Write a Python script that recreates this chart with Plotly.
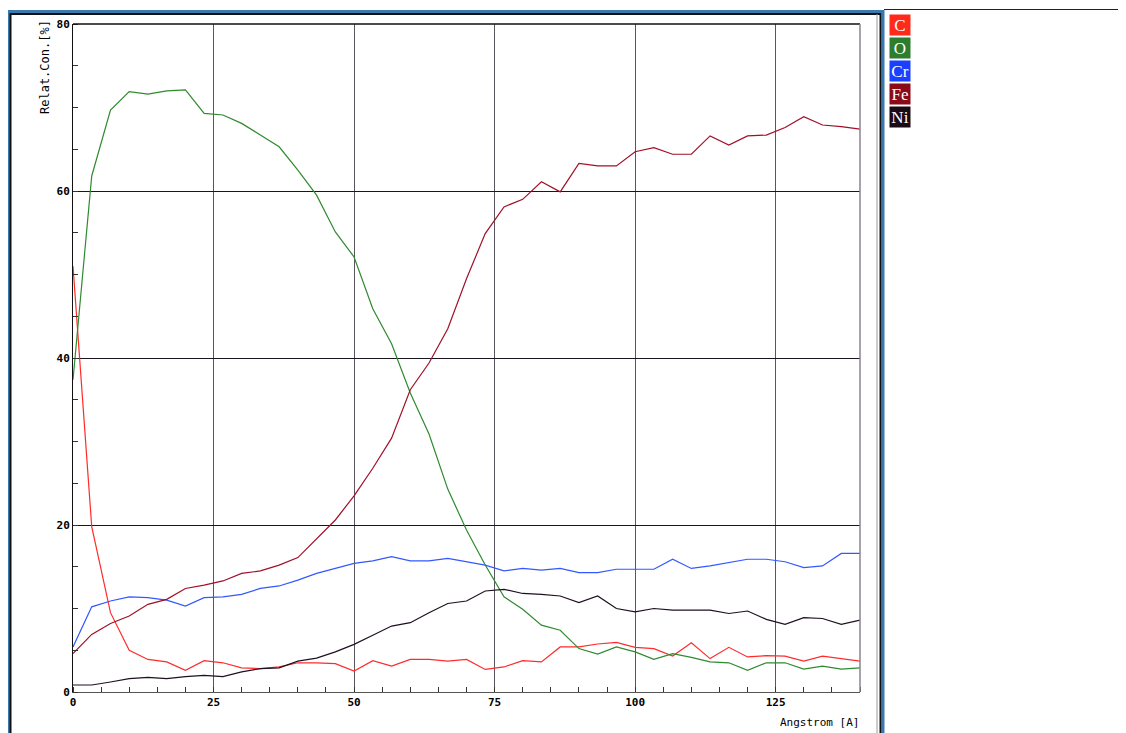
import plotly.graph_objects as go

# Depth axis (Angstrom)
depth = [0.0, 3.33, 6.67, 10.0, 13.33, 16.67, 20.0, 23.33, 26.67, 30.0,
         33.33, 36.67, 40.0, 43.33, 46.67, 50.0, 53.33, 56.67, 60.0, 63.33,
         66.67, 70.0, 73.33, 76.67, 80.0, 83.33, 86.67, 90.0, 93.33, 96.67,
         100.0, 103.33, 106.67, 110.0, 113.33, 116.67, 120.0, 123.33, 126.67, 130.0,
         133.33, 136.67, 140.0]

conc_C = [51.0, 19.8, 9.5, 5.0, 3.9, 3.6, 2.6, 3.75, 3.5, 2.9,
          2.8, 3.0, 3.5, 3.5, 3.4, 2.5, 3.75, 3.1, 3.9, 3.9,
          3.7, 3.9, 2.7, 3.0, 3.75, 3.6, 5.4, 5.4, 5.75, 5.95,
          5.35, 5.2, 4.3, 5.9, 4.0, 5.35, 4.2, 4.35, 4.3, 3.7,
          4.3, 4.0, 3.7]

conc_O = [37.4, 61.8, 69.7, 71.9, 71.6, 72.0, 72.1, 69.3, 69.1, 68.1,
          66.7, 65.3, 62.5, 59.5, 55.1, 52.1, 45.9, 41.7, 35.8, 30.9,
          24.3, 19.4, 15.2, 11.4, 9.9, 8.0, 7.4, 5.2, 4.55, 5.4,
          4.8, 3.9, 4.6, 4.15, 3.6, 3.5, 2.6, 3.5, 3.5, 2.75,
          3.1, 2.75, 2.9]

conc_Cr = [5.4, 10.2, 10.9, 11.4, 11.3, 11.0, 10.3, 11.3, 11.4, 11.7,
           12.4, 12.7, 13.4, 14.2, 14.8, 15.4, 15.7, 16.2, 15.7, 15.7,
           16.0, 15.6, 15.2, 14.5, 14.8, 14.6, 14.8, 14.3, 14.3, 14.7,
           14.7, 14.7, 15.9, 14.8, 15.1, 15.5, 15.9, 15.9, 15.6, 14.9,
           15.1, 16.6, 16.6]

conc_Fe = [4.6, 6.9, 8.2, 9.1, 10.5, 11.1, 12.4, 12.8, 13.3, 14.2,
           14.5, 15.2, 16.1, 18.3, 20.6, 23.5, 26.8, 30.4, 36.2, 39.4,
           43.5, 49.5, 54.9, 58.1, 59.0, 61.1, 59.9, 63.3, 63.0, 63.0,
           64.7, 65.2, 64.4, 64.4, 66.6, 65.5, 66.6, 66.7, 67.6, 68.9,
           67.9, 67.7, 67.4]

conc_Ni = [0.84, 0.84, 1.2, 1.6, 1.75, 1.6, 1.85, 2.0, 1.85, 2.4,
           2.8, 2.9, 3.7, 4.05, 4.8, 5.7, 6.8, 7.9, 8.3, 9.5,
           10.6, 10.9, 12.1, 12.3, 11.8, 11.7, 11.5, 10.7, 11.5, 10.0,
           9.6, 10.0, 9.8, 9.8, 9.8, 9.4, 9.7, 8.7, 8.1, 8.9,
           8.8, 8.1, 8.6]

elements = ["C", "O", "Cr", "Fe", "Ni"]
line_colors = ["#ff2b2b", "#2f8a2f", "#3358ff", "#a0102a", "#1e1020"]
box_colors = ["#ff2a1a", "#2e7d2e", "#1a40ff", "#8a0a1a", "#1a0a14"]
series = [conc_C, conc_O, conc_Cr, conc_Fe, conc_Ni]

x_ticks = [0, 25, 50, 75, 100, 125]
y_ticks = [0, 20, 40, 60, 80]

OFF = 8  # page body margin
W, H = 1126 - OFF, 733 - OFF
# plot area in page pixels
L, R, T, B = 73, 860, 24, 692


def px(xp):
    return (xp - L) / (R - L)


def py(yp):
    return (B - yp) / (B - T)


fig = go.Figure()
for name, vals, col in zip(elements, series, line_colors):
    fig.add_trace(go.Scatter(x=depth, y=vals, mode="lines", name=name,
                             line=dict(color=col, width=1.2), showlegend=False))

mono = "DejaVu Sans Mono"

fig.update_layout(
    width=W, height=H,
    margin=dict(l=L - OFF, r=(W + OFF) - R, t=T - OFF, b=(H + OFF) - B, autoexpand=False),
    paper_bgcolor="white", plot_bgcolor="white",
    xaxis=dict(range=[0, 140], tickvals=x_ticks, ticktext=[str(v) for v in x_ticks],
               showgrid=True, gridcolor="#5a5560", gridwidth=1,
               showline=True, linecolor="#555555", linewidth=1,
               ticks="", zeroline=False,
               minor=dict(dtick=5, tick0=0, ticks="inside", ticklen=5, tickcolor="#333", showgrid=False),
               tickfont=dict(family=mono, size=11, color="black", weight="bold")),
    yaxis=dict(range=[0, 80], tickvals=y_ticks, ticktext=[str(v) for v in y_ticks],
               showgrid=True, gridcolor="#1a1420", gridwidth=1,
               showline=True, linecolor="#111111", linewidth=1,
               ticks="", zeroline=False,
               minor=dict(dtick=5, tick0=0, ticks="inside", ticklen=5, tickcolor="#333", showgrid=False),
               tickfont=dict(family=mono, size=11, color="black", weight="bold")),
)

shapes = []
# plot area top and right borders
shapes.append(dict(type="line", xref="paper", yref="paper", x0=0, x1=1, y0=1, y1=1,
                   line=dict(color="#111111", width=1.5)))
shapes.append(dict(type="line", xref="paper", yref="paper", x0=1, x1=1, y0=0, y1=1,
                   line=dict(color="#8a8590", width=1.5)))
# outer window frame: blue outer, black inner
shapes.append(dict(type="rect", xref="paper", yref="paper",
                   x0=px(8.5), x1=px(883), y0=py(11.5), y1=py(760),
                   line=dict(color="#3a78b0", width=3)))
shapes.append(dict(type="rect", xref="paper", yref="paper",
                   x0=px(10.5), x1=px(880.5), y0=py(14), y1=py(760),
                   line=dict(color="#111111", width=2)))
shapes.append(dict(type="line", xref="paper", yref="paper",
                   x0=px(877), x1=px(877), y0=py(14), y1=py(760),
                   line=dict(color="#9a9aa0", width=1)))
# thin line across top right
shapes.append(dict(type="line", xref="paper", yref="paper",
                   x0=px(884), x1=px(1126), y0=py(9.5), y1=py(9.5),
                   line=dict(color="#222222", width=1)))
fig.update_layout(shapes=shapes)

annotations = []
annotations.append(dict(text="Relat.Con.[%]", xref="paper", yref="paper",
                        x=px(45), y=py(67), textangle=-90, showarrow=False,
                        xanchor="center", yanchor="middle",
                        font=dict(family=mono, size=12, color="black")))
annotations.append(dict(text="Angstrom [A]", xref="paper", yref="paper",
                        x=px(861), y=py(722), showarrow=False,
                        xanchor="right", yanchor="middle",
                        font=dict(family=mono, size=11, color="black")))
for i, (name, col) in enumerate(zip(elements, box_colors)):
    cy = 25 + i * 23
    annotations.append(dict(text=name, xref="paper", yref="paper",
                            x=px(899.5), y=py(cy), showarrow=False,
                            xanchor="center", yanchor="middle",
                            width=20, height=20, bgcolor=col, borderpad=0,
                            font=dict(family="Liberation Serif", size=17, color="white")))
fig.update_layout(annotations=annotations)

fig.write_html("out.html")
